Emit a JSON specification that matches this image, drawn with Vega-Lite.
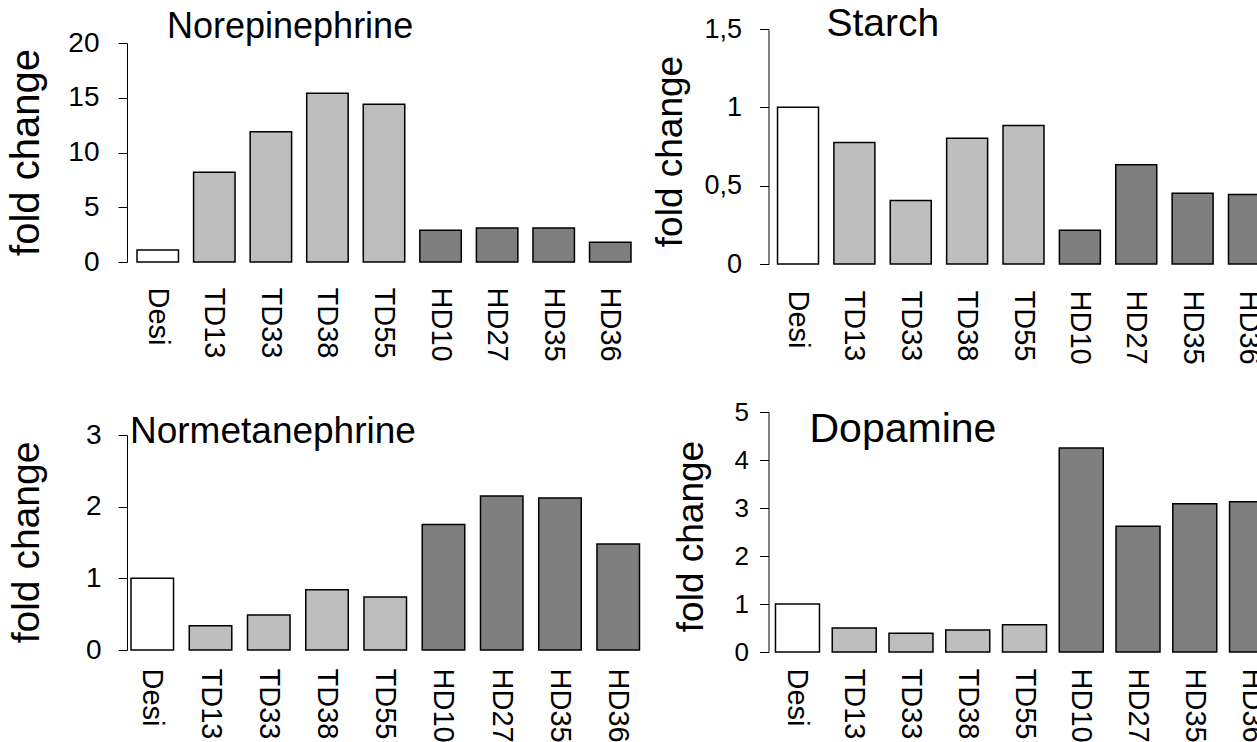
{
  "$schema": "https://vega.github.io/schema/vega-lite/v6.json",
  "padding": {"left": 5, "top": 5, "right": 0, "bottom": 0},
  "background": "white",
  "config": {
    "view": {"stroke": null},
    "font": "Liberation Sans",
    "axis": {"grid": false, "labelFont": "Liberation Sans", "titleFont": "Liberation Sans", "labelColor": "black", "titleColor": "black", "domainColor": "black", "tickColor": "black", "titleFontWeight": "normal"},
    "title": {"font": "Liberation Sans", "fontWeight": "normal", "color": "black", "anchor": "start", "frame": "group", "baseline": "alphabetic"},
    "bar": {"stroke": "black", "strokeWidth": 1.5}
  },
  "datasets": {
    "nor": [
      {"line": "Desi", "grp": "Desi", "fc": 1.1},
      {"line": "TD13", "grp": "TD", "fc": 8.2},
      {"line": "TD33", "grp": "TD", "fc": 11.9},
      {"line": "TD38", "grp": "TD", "fc": 15.4},
      {"line": "TD55", "grp": "TD", "fc": 14.4},
      {"line": "HD10", "grp": "HD", "fc": 2.9},
      {"line": "HD27", "grp": "HD", "fc": 3.1},
      {"line": "HD35", "grp": "HD", "fc": 3.1},
      {"line": "HD36", "grp": "HD", "fc": 1.8}
    ],
    "starch": [
      {"line": "Desi", "grp": "Desi", "fc": 1.0},
      {"line": "TD13", "grp": "TD", "fc": 0.776},
      {"line": "TD33", "grp": "TD", "fc": 0.405},
      {"line": "TD38", "grp": "TD", "fc": 0.803},
      {"line": "TD55", "grp": "TD", "fc": 0.884},
      {"line": "HD10", "grp": "HD", "fc": 0.215},
      {"line": "HD27", "grp": "HD", "fc": 0.633},
      {"line": "HD35", "grp": "HD", "fc": 0.451},
      {"line": "HD36", "grp": "HD", "fc": 0.443}
    ],
    "normet": [
      {"line": "Desi", "grp": "Desi", "fc": 1.0},
      {"line": "TD13", "grp": "TD", "fc": 0.34},
      {"line": "TD33", "grp": "TD", "fc": 0.49},
      {"line": "TD38", "grp": "TD", "fc": 0.84},
      {"line": "TD55", "grp": "TD", "fc": 0.74},
      {"line": "HD10", "grp": "HD", "fc": 1.75},
      {"line": "HD27", "grp": "HD", "fc": 2.15},
      {"line": "HD35", "grp": "HD", "fc": 2.12},
      {"line": "HD36", "grp": "HD", "fc": 1.48}
    ],
    "dopa": [
      {"line": "Desi", "grp": "Desi", "fc": 1.0},
      {"line": "TD13", "grp": "TD", "fc": 0.5},
      {"line": "TD33", "grp": "TD", "fc": 0.39},
      {"line": "TD38", "grp": "TD", "fc": 0.46},
      {"line": "TD55", "grp": "TD", "fc": 0.57},
      {"line": "HD10", "grp": "HD", "fc": 4.25},
      {"line": "HD27", "grp": "HD", "fc": 2.62},
      {"line": "HD35", "grp": "HD", "fc": 3.09},
      {"line": "HD36", "grp": "HD", "fc": 3.13}
    ]
  },
  "bounds": "flush",
  "columns": 2,
  "spacing": {"row": 148, "column": 124.5},
  "concat": [
    {
      "width": 514, "height": 233,
      "title": {"text": "Norepinephrine", "fontSize": 36, "dx": 40, "offset": -17},
      "data": {"name": "nor"},
      "mark": {"type": "bar"},
      "encoding": {
        "x": {"field": "line", "type": "nominal", "sort": null, "scale": {"paddingInner": 0.267, "paddingOuter": 0.177},
          "axis": {"title": null, "labelAngle": 90, "labelAlign": "left", "labelBaseline": "middle", "domain": false, "ticks": false, "labelPadding": 25, "labelFontSize": 29}},
        "y": {"field": "fc", "type": "quantitative", "scale": {"domain": [0, 21.279], "nice": false},
          "axis": {"values": [0, 5, 10, 15, 20], "domainDash": [219, 1000], "title": "fold change", "titleFontSize": 40, "titleX": -81, "titleY": 123, "labelFontSize": 28, "tickSize": 9, "labelPadding": 19}},
        "fill": {"field": "grp", "type": "nominal", "scale": {"domain": ["Desi", "TD", "HD"], "range": ["#ffffff", "#bebebe", "#7f7f7f"]}, "legend": null}
      }
    },
    {
      "width": 510, "height": 235,
      "title": {"text": "Starch", "fontSize": 39, "dx": 58, "offset": -29},
      "data": {"name": "starch"},
      "mark": {"type": "bar"},
      "encoding": {
        "x": {"field": "line", "type": "nominal", "sort": null, "scale": {"paddingInner": 0.273, "paddingOuter": 0.16},
          "axis": {"title": null, "labelAngle": 90, "labelAlign": "left", "labelBaseline": "middle", "domain": false, "ticks": false, "labelPadding": 26, "labelFontSize": 29}},
        "y": {"field": "fc", "type": "quantitative", "scale": {"domain": [0, 1.5], "nice": false},
          "axis": {"values": [0, 0.5, 1, 1.5], "labelExpr": "replace(toString(datum.value), '.', ',')", "title": "fold change", "titleFontSize": 37, "titleX": -79, "titleY": 122, "labelFontSize": 27, "tickSize": 9, "labelPadding": 18}},
        "fill": {"field": "grp", "type": "nominal", "scale": {"domain": ["Desi", "TD", "HD"], "range": ["#ffffff", "#bebebe", "#7f7f7f"]}, "legend": null}
      }
    },
    {
      "width": 516.5, "height": 238,
      "title": {"text": "Normetanephrine", "fontSize": 37, "dx": 3, "offset": -39},
      "data": {"name": "normet"},
      "mark": {"type": "bar"},
      "encoding": {
        "x": {"field": "line", "type": "nominal", "sort": null, "scale": {"paddingInner": 0.27, "paddingOuter": 0.069},
          "axis": {"title": null, "labelAngle": 90, "labelAlign": "left", "labelBaseline": "middle", "domain": false, "ticks": false, "labelPadding": 18, "labelFontSize": 29}},
        "y": {"field": "fc", "type": "quantitative", "scale": {"domain": [0, 3.321], "nice": false},
          "axis": {"values": [0, 1, 2, 3], "domainDash": [215, 1000], "title": "fold change", "titleFontSize": 39, "titleX": -81, "titleY": 130, "labelFontSize": 28, "tickSize": 9, "labelPadding": 17}},
        "fill": {"field": "grp", "type": "nominal", "scale": {"domain": ["Desi", "TD", "HD"], "range": ["#ffffff", "#bebebe", "#7f7f7f"]}, "legend": null}
      }
    },
    {
      "width": 512, "height": 240,
      "title": {"text": "Dopamine", "fontSize": 41, "dx": 41, "offset": -52},
      "data": {"name": "dopa"},
      "mark": {"type": "bar"},
      "encoding": {
        "x": {"field": "line", "type": "nominal", "sort": null, "scale": {"paddingInner": 0.225, "paddingOuter": 0.123},
          "axis": {"title": null, "labelAngle": 90, "labelAlign": "left", "labelBaseline": "middle", "domain": false, "ticks": false, "labelPadding": 16, "labelFontSize": 29}},
        "y": {"field": "fc", "type": "quantitative", "scale": {"domain": [0, 5], "nice": false},
          "axis": {"values": [0, 1, 2, 3, 4, 5], "title": "fold change", "titleFontSize": 37, "titleX": -58, "titleY": 124, "labelFontSize": 26, "tickSize": 9, "labelPadding": 11}},
        "fill": {"field": "grp", "type": "nominal", "scale": {"domain": ["Desi", "TD", "HD"], "range": ["#ffffff", "#bebebe", "#7f7f7f"]}, "legend": null}
      }
    }
  ]
}
